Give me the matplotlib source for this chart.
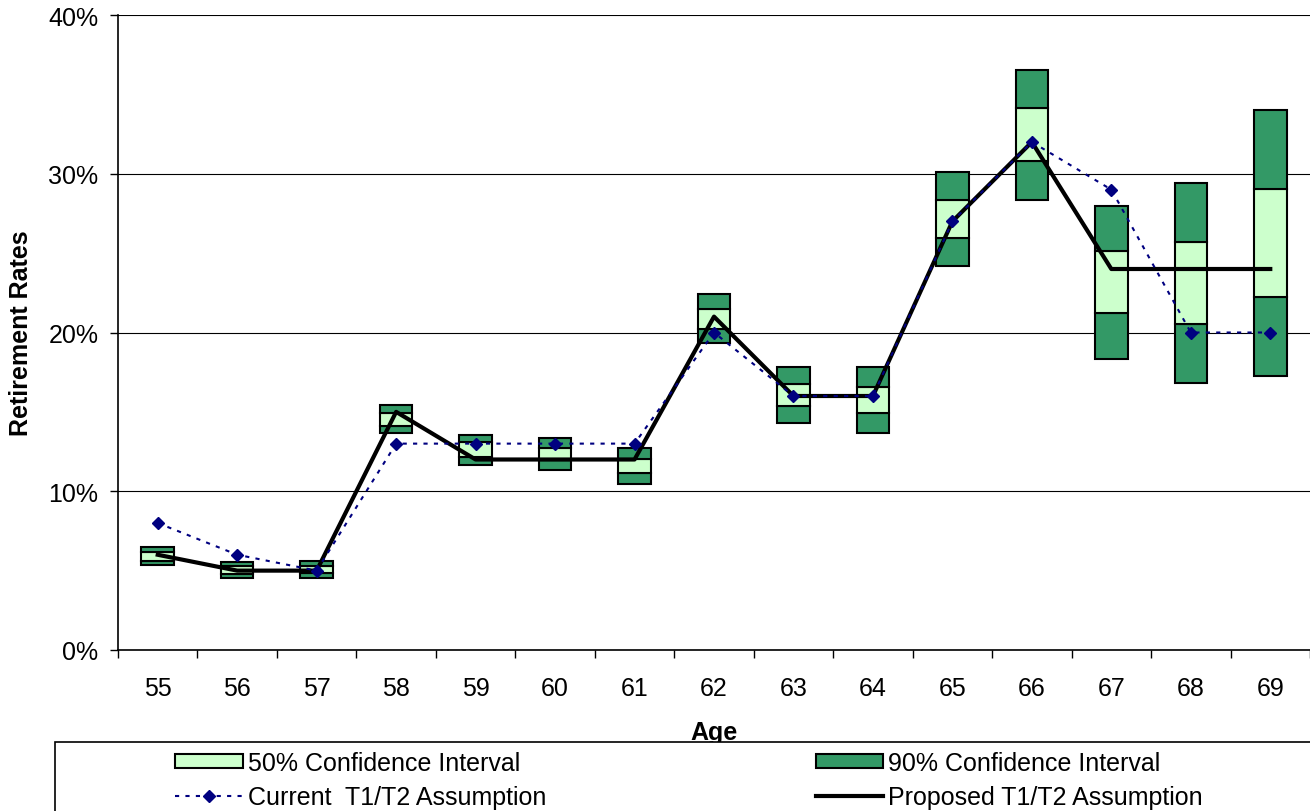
import matplotlib
matplotlib.use("Agg")
import matplotlib.pyplot as plt
from matplotlib.patches import Patch, Rectangle
from matplotlib.lines import Line2D
from matplotlib.ticker import FixedLocator, FuncFormatter

plt.rcParams['font.family'] = ['Liberation Sans', 'DejaVu Sans']

# Edades y tasas de retiro (en %)
ages = [55, 56, 57, 58, 59, 60, 61, 62, 63, 64, 65, 66, 67, 68, 69]
lo90 = [5.35, 4.52, 4.54, 13.67, 11.65, 11.34, 10.48, 19.32, 14.30, 13.67, 24.17, 28.37, 18.33, 16.82, 17.28]
lo50 = [5.63, 4.79, 4.85, 14.13, 12.18, 12.00, 11.13, 20.22, 15.35, 14.91, 25.93, 30.83, 21.21, 20.56, 22.24]
hi50 = [6.19, 5.31, 5.31, 14.93, 13.08, 12.71, 12.03, 21.48, 16.76, 16.59, 28.37, 34.12, 25.16, 25.72, 29.04]
hi90 = [6.47, 5.56, 5.63, 15.45, 13.56, 13.35, 12.71, 22.45, 17.81, 17.85, 30.13, 36.56, 27.99, 29.42, 34.00]
current = [8, 6, 5, 13, 13, 13, 13, 20, 16, 16, 27, 32, 29, 20, 20]
proposed = [6, 5, 5, 15, 12, 12, 12, 21, 16, 16, 27, 32, 24, 24, 24]

DARK = '#339966'
LIGHT = '#CCFFCC'
FS = 18

fig = plt.figure(figsize=(13.1, 8.12), dpi=100)
ax = fig.add_axes([118 / 1310, 1 - 651 / 812, 1 - 118 / 1310, (651 - 16) / 812])

x = list(range(len(ages)))
w = 0.41
box = dict(width=w, edgecolor='black', linewidth=1.5, zorder=3)
# intervalos: 90% abajo, 50% al centro, 90% arriba
ax.bar(x, [b - a for a, b in zip(lo90, lo50)], bottom=lo90, color=DARK, **box)
ax.bar(x, [b - a for a, b in zip(lo50, hi50)], bottom=lo50, color=LIGHT, **box)
ax.bar(x, [b - a for a, b in zip(hi50, hi90)], bottom=hi50, color=DARK, **box)

ax.plot(x, current, color='#000080', linestyle=(0, (2, 3)), linewidth=1.5,
        marker='D', markersize=6, zorder=5)
ax.plot(x, proposed, color='black', linewidth=3, zorder=4)

ax.set_xlim(-0.5, len(ages) - 0.5)
ax.set_ylim(0, 40)
ax.set_yticks([0, 10, 20, 30, 40])
ax.yaxis.set_major_formatter(FuncFormatter(lambda v, p: f"{v:.0f}%"))
ax.grid(axis='y', color='black', linewidth=0.8, zorder=0)
ax.set_axisbelow(True)

# marcas en los bordes de cada categoria, etiquetas en el centro
ax.xaxis.set_major_locator(FixedLocator([i - 0.5 for i in range(len(ages) + 1)]))
ax.set_xticklabels([])
ax.set_xticks(x, minor=True)
ax.set_xticklabels([str(a) for a in ages], minor=True)
ax.tick_params(axis='x', which='major', length=6, width=1, direction='out')
ax.tick_params(axis='x', which='minor', length=0, pad=19, labelsize=FS)
ax.tick_params(axis='y', length=6, width=1, pad=8, labelsize=FS)

for s in ['top', 'right']:
    ax.spines[s].set_visible(False)
ax.spines['left'].set_linewidth(1.2)
ax.spines['bottom'].set_linewidth(1.2)

ax.set_xlabel('Age', fontsize=FS, fontweight='bold')
ax.xaxis.set_label_coords(0.5, -0.11)
ax.set_ylabel('Retirement Rates', fontsize=FS, fontweight='bold')
ax.yaxis.set_label_coords(-0.071, 0.5)

# recuadro de la leyenda
fig.patches.append(Rectangle((55 / 1310, -0.01), 1.0, 1 - 743 / 812 + 0.01,
                             transform=fig.transFigure, facecolor='white',
                             edgecolor='black', linewidth=1.2))

handles = [
    Patch(facecolor=LIGHT, edgecolor='black', linewidth=1.5),
    Line2D([], [], color='#000080', linestyle=(0, (2, 3)), linewidth=1.5,
           marker='D', markersize=6),
    Patch(facecolor=DARK, edgecolor='black', linewidth=1.5),
    Line2D([], [], color='black', linewidth=3),
]
labels = ['50% Confidence Interval', 'Current  T1/T2 Assumption',
          '90% Confidence Interval', 'Proposed T1/T2 Assumption']
fig.legend(handles, labels, ncol=2, frameon=False, fontsize=FS,
           loc='upper left', bbox_to_anchor=(175 / 1310, 1 - 752 / 812),
           handlelength=2.7, handleheight=0.5, handletextpad=0.2,
           columnspacing=10.8, labelspacing=0.4, borderpad=0,
           borderaxespad=0)

fig.savefig('out.png', dpi=100)
